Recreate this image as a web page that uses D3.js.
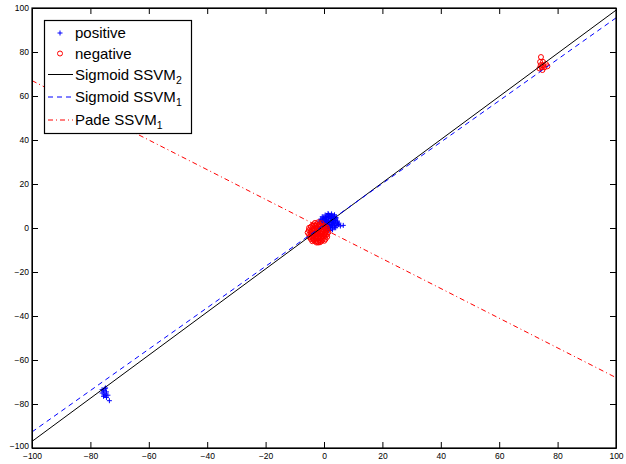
<!DOCTYPE html>
<html>
<head>
<script src="https://d3js.org/d3.v7.min.js"></script>
<style>
  body { margin: 0; background: #fff; font-family: "Liberation Sans", Arial, sans-serif; }
</style>
</head>
<body>
<div id="chart"></div>
<script>
// tick values on both axes
const ticks = [-100, -80, -60, -40, -20, 0, 20, 40, 60, 80, 100];

// positive samples (blue +), dense blob near the origin plus a group near (-75,-75)
const positive = [
  [1.4,6.6],[2.6,6.4],
  [0.4,5.9],[1.6,6.1],[2.4,5.8],[3.6,6.0],
  [-0.6,5.1],[0.6,4.9],[1.5,5.2],[2.6,4.9],[3.4,5.1],[4.1,4.8],
  [-1.1,4.0],[0.1,4.2],[0.9,3.9],[2.1,4.1],[3.0,3.8],[4.1,4.2],
  [-1.6,3.1],[-0.4,2.9],[0.6,3.2],[1.4,2.9],[2.6,3.1],[3.4,2.8],[4.6,3.1],
  [-1.0,2.1],[0.1,1.9],[1.1,2.2],[1.9,1.8],[3.1,2.1],[4.0,1.9],[5.1,2.2],
  [-0.4,1.0],[0.6,1.1],[1.5,0.9],[2.4,1.1],[3.6,0.9],[4.5,1.1],[5.6,0.9],[6.6,1.2],
  [0.1,0.1],[1.0,-0.1],[2.1,0.2],[2.9,-0.1],[4.0,0.1],
  [1.1,-0.9],[2.0,-1.1],[2.9,-0.8],
  [-0.5,3.6],[0.5,2.5],[1.5,3.5],[2.5,2.5],[3.5,3.5],[2.5,1.5],[1.5,1.5],[0.5,4.5],[3.5,4.5],[1.5,4.6],
  [2.0,5.5],[3.0,5.5],[1.0,5.5],[-0.2,4.6],[2.5,4.3],[4.0,3.5],[3.0,2.6],[-1.0,3.5],[0.0,2.4],
  [1.0,1.4],[3.0,1.4],[5.0,1.6],[4.5,2.4],[2.0,0.5],[0.5,0.5],[3.5,0.4],[1.5,-0.4],
  [-75,-73],[-75.5,-74],[-74.5,-74.5],[-76,-75],[-75,-75.5],[-74,-76],[-75.5,-76.5],
  [-74.5,-77],[-73.5,-78.5],[-76,-73.5],[-75,-76],[-74.8,-72.7]
];

// negative samples (red o), dense blob near the origin plus a group near (75,75)
const negative = [
  [-3.1,2.3],[-2.0,2.6],[-0.9,2.2],
  [-4.0,1.1],[-3.0,0.9],[-1.9,1.2],[-1.1,0.9],[0.1,1.1],
  [-5.1,0.1],[-4.0,-0.1],[-2.9,0.2],[-2.1,-0.1],[-0.9,0.1],[0.1,-0.2],[1.0,0.1],
  [-5.2,-1.0],[-3.9,-1.1],[-3.1,-0.9],[-1.9,-1.1],[-1.0,-0.9],[0.0,-1.1],[1.1,-0.9],
  [-5.6,-2.1],[-4.4,-1.9],[-3.6,-2.1],[-2.5,-1.9],[-1.4,-2.1],[-0.6,-1.9],[0.5,-2.1],[1.5,-1.9],
  [-5.1,-3.0],[-3.9,-3.1],[-3.1,-2.9],[-2.0,-3.1],[-0.9,-2.9],[0.1,-3.1],[1.0,-2.9],
  [-5.0,-4.1],[-4.1,-3.9],[-2.9,-4.1],[-2.0,-3.9],[-1.1,-4.1],[0.0,-3.9],[1.1,-4.0],
  [-4.5,-5.0],[-3.4,-5.1],[-2.6,-4.9],[-1.5,-5.1],[-0.4,-4.9],[0.5,-5.1],
  [-4.0,-6.0],[-3.0,-5.9],[-2.1,-6.1],[-0.9,-6.0],[0.1,-5.8],
  [-2.6,-6.6],[-1.4,-6.5],
  [-2.5,1.6],[-3.5,-0.5],[-1.5,-0.5],[-2.5,-2.5],[-4.5,-3.5],[-1.5,-3.5],[-3.5,-4.5],[-0.5,-1.5],
  [-3.5,1.6],[-1.5,1.7],[-4.5,0.5],[-0.5,0.6],[0.6,0.5],[-4.6,-1.5],[-2.5,-0.6],[0.6,-1.5],
  [-4.5,-2.5],[-3.0,-2.4],[-1.0,-2.5],[0.5,-2.6],[-3.5,-3.5],[-2.5,-3.6],[-0.5,-3.5],[0.6,-3.5],
  [-4.0,-4.6],[-2.0,-4.5],[-1.0,-4.6],[-3.5,-5.6],[-1.5,-5.6],[-0.5,-5.5],[-2.0,-6.6],
  [74.3,77.7],[74,75.5],[75,74],[74.5,73],[76,74.5],[75.5,73],[73.8,72.5],[74.8,71.8],
  [76.5,73.5],[75,75.5],[74.2,74]
];

// separating lines, endpoints at x = -100 and x = 100
const sigmoid2 = [[-100, -97], [100, 99]];
const sigmoid1 = [[-100, -92.7], [100, 95.5]];
const pade1 = [[-100, 67], [100, -68]];

const width = 626, height = 464;
const margin = { top: 8, right: 10, bottom: 16, left: 32 };

const svg = d3.select("#chart").append("svg")
  .attr("width", width)
  .attr("height", height);

const x = d3.scaleLinear().domain([-100, 100]).range([margin.left, width - margin.right]);
const y = d3.scaleLinear().domain([-100, 100]).range([height - margin.bottom, margin.top]);

const plot = svg.append("g");
plot.append("defs").append("clipPath").attr("id", "clip")
  .append("rect")
  .attr("x", x(-100)).attr("y", y(100))
  .attr("width", x(100) - x(-100)).attr("height", y(-100) - y(100));

const marks = plot.append("g").attr("clip-path", "url(#clip)");

// plus markers
marks.selectAll(".pos").data(positive).enter().append("path")
  .attr("class", "pos")
  .attr("d", d => `M${x(d[0]) - 2.5},${y(d[1])}h5M${x(d[0])},${y(d[1]) - 2.5}v5`)
  .attr("stroke", "#0000ff")
  .attr("stroke-width", 1)
  .attr("fill", "none");

// circle markers
marks.selectAll(".neg").data(negative).enter().append("circle")
  .attr("class", "neg")
  .attr("cx", d => x(d[0]))
  .attr("cy", d => y(d[1]))
  .attr("r", 2.5)
  .attr("stroke", "#ff0000")
  .attr("stroke-width", 1)
  .attr("fill", "none");

const line = d3.line().x(d => x(d[0])).y(d => y(d[1]));

marks.append("path").datum(sigmoid2)
  .attr("d", line).attr("stroke", "#000").attr("stroke-width", 1).attr("fill", "none");
marks.append("path").datum(sigmoid1)
  .attr("d", line).attr("stroke", "#0000ff").attr("stroke-width", 1)
  .attr("stroke-dasharray", "5,4").attr("fill", "none");
marks.append("path").datum(pade1)
  .attr("d", line).attr("stroke", "#ff0000").attr("stroke-width", 1)
  .attr("stroke-dasharray", "5,3,1,3").attr("fill", "none");

// axes with inward ticks on all four sides
const fmt = d => d < 0 ? "\u2212" + Math.abs(d) : String(d);

const xAxis = svg.append("g")
  .attr("transform", `translate(0,${y(-100)})`)
  .call(d3.axisBottom(x).tickValues(ticks).tickSizeInner(-6).tickSizeOuter(0).tickFormat(fmt));
xAxis.selectAll("text").attr("dy", 0).attr("y", 11);

const yAxis = svg.append("g")
  .attr("transform", `translate(${x(-100)},0)`)
  .call(d3.axisLeft(y).tickValues(ticks).tickSizeInner(-6).tickSizeOuter(0).tickFormat(fmt));
yAxis.selectAll("text").attr("x", -3);
// the y "-100" label sits slightly higher so it clears the x label
yAxis.selectAll(".tick").filter(d => d === -100).select("text").attr("dy", "0.1em");

svg.append("g")
  .attr("transform", `translate(0,${y(100)})`)
  .call(d3.axisTop(x).tickValues(ticks).tickSizeInner(-6).tickSizeOuter(0).tickFormat(""));
svg.append("g")
  .attr("transform", `translate(${x(100)},0)`)
  .call(d3.axisRight(y).tickValues(ticks).tickSizeInner(-6).tickSizeOuter(0).tickFormat(""));

svg.selectAll(".tick text")
  .style("font-family", "'Liberation Sans', Arial, sans-serif")
  .style("font-size", "8.5px")
  .attr("fill", "#000");
svg.selectAll(".domain, .tick line").attr("stroke", "#000");

svg.append("rect")
  .attr("x", x(-100)).attr("y", y(100))
  .attr("width", x(100) - x(-100)).attr("height", y(-100) - y(100))
  .attr("fill", "none").attr("stroke", "#000").attr("stroke-width", 1.2);

// legend
const legend = svg.append("g");
legend.append("rect")
  .attr("x", 44.5).attr("y", 20.5).attr("width", 147).attr("height", 113)
  .attr("fill", "#fff").attr("stroke", "#000").attr("stroke-width", 1.2);

const items = [
  { name: "positive", sub: "", type: "plus", cy: 33 },
  { name: "negative", sub: "", type: "circle", cy: 53.5 },
  { name: "Sigmoid SSVM", sub: "2", type: "solid", cy: 74.5 },
  { name: "Sigmoid SSVM", sub: "1", type: "dash", cy: 97 },
  { name: "Pade SSVM", sub: "1", type: "dashdot", cy: 120 }
];

items.forEach(it => {
  const g = legend.append("g");
  if (it.type === "plus") {
    g.append("path").attr("d", `M57.5,${it.cy}h5M60,${it.cy - 2.5}v5`)
      .attr("stroke", "#0000ff").attr("fill", "none");
  } else if (it.type === "circle") {
    g.append("circle").attr("cx", 60).attr("cy", it.cy).attr("r", 2.5)
      .attr("stroke", "#ff0000").attr("fill", "none");
  } else {
    const l = g.append("line").attr("x1", 48).attr("x2", 73)
      .attr("y1", it.cy).attr("y2", it.cy).attr("stroke-width", 1);
    if (it.type === "solid") l.attr("stroke", "#000");
    if (it.type === "dash") l.attr("stroke", "#0000ff").attr("stroke-dasharray", "5,4");
    if (it.type === "dashdot") l.attr("stroke", "#ff0000").attr("stroke-dasharray", "5,3,1,3");
  }
  const t = g.append("text")
    .attr("x", 75).attr("y", Math.round(it.cy) + 5.2)
    .style("font-family", "'Liberation Sans', Arial, sans-serif")
    .style("font-size", "15px")
    .text(it.name);
  if (it.sub) {
    t.append("tspan").attr("dy", 4).style("font-size", "10.5px").text(it.sub);
  }
});
</script>
</body>
</html>
